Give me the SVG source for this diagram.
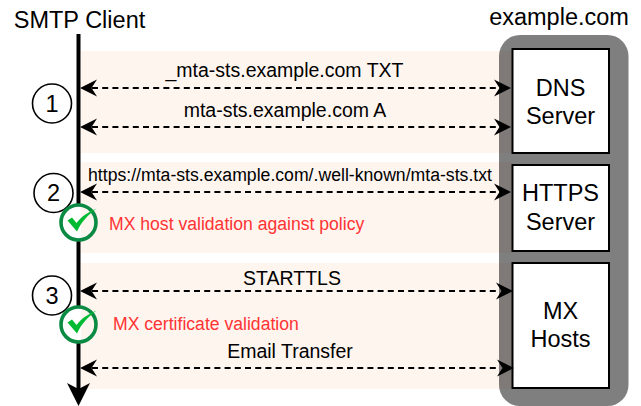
<svg xmlns="http://www.w3.org/2000/svg" width="641" height="406" viewBox="0 0 641 406">
<style>
text{font-family:"Liberation Sans",Arial,sans-serif;fill:#000}
.band{fill:#fff5ef}
.box{fill:#fff;stroke:#000;stroke-width:2}
.big{font-size:23.500px;text-anchor:middle}
.lbl{font-size:19.500px;text-anchor:middle}
.red{font-size:17.600px;fill:#ff3333}
.num{fill:#fff;stroke:#000;stroke-width:1.600}
.dash{fill:none;stroke:#000;stroke-width:2;stroke-dasharray:6 4.200}
</style>
<defs>
<path id="hl" d="M0 0L17-8.500L11.500 0L17 8.500Z" fill="#000"/>
<path id="hr" d="M0 0L-17-8.500L-11.500 0L-17 8.500Z" fill="#000"/>
<g id="check">
<circle r="17.500" fill="#fff"/>
<path class="band" d="M2.500-17.300A17.500 17.500 0 0 1 2.500 17.300Z"/>
<circle r="17.500" fill="none" stroke="#0a8a43" stroke-width="3.600"/>
<path d="M-11-2L-6.500-5L-2 .5C3-6 9-10 18-14C9-7 3-1-1.500 9Z" fill="#00bb33"/>
</g>
</defs>
<g id="bands">
<rect class="band" x="81" y="51" width="431" height="102"/>
<rect class="band" x="81" y="162" width="431" height="91"/>
<rect class="band" x="81" y="263" width="431" height="126"/>
</g>
<g id="example-com">
<rect x="499" y="35" width="129.500" height="371" rx="21" fill="#000" fill-opacity=".5"/>
<text class="big" x="559" y="25">example.com</text>
</g>
<g id="dns-server">
<rect class="box" x="512.500" y="49" width="96.500" height="104"/>
<text class="big" x="560.500" y="96">DNS</text>
<text class="big" x="560.500" y="124">Server</text>
</g>
<g id="https-server">
<rect class="box" x="512.500" y="165" width="96.500" height="86"/>
<text class="big" x="560.500" y="201">HTTPS</text>
<text class="big" x="560.500" y="230">Server</text>
</g>
<g id="mx-hosts">
<rect class="box" x="512.500" y="263" width="96.500" height="125"/>
<text class="big" x="560.500" y="319">MX</text>
<text class="big" x="560.500" y="347">Hosts</text>
</g>
<g id="smtp-client">
<text class="big" x="79.500" y="28">SMTP Client</text>
</g>
<g id="connectors">
<path d="M78.500 34V392" fill="none" stroke="#000" stroke-width="4"/>
<path d="M78.500 406L67 383L78.500 389L90 383Z" fill="#000"/>
<path class="dash" d="M92 88H498M92 127H498M92 192H498M92 291H500M92 368H500"/>
<use href="#hl" x="80" y="88"/><use href="#hr" x="511" y="88"/>
<use href="#hl" x="80" y="127"/><use href="#hr" x="511" y="127"/>
<use href="#hl" x="80" y="192"/><use href="#hr" x="511" y="192"/>
<use href="#hl" x="80" y="291"/><use href="#hr" x="513" y="291"/>
<use href="#hl" x="80" y="368"/><use href="#hr" x="514" y="368"/>
</g>
<g id="labels">
<text class="lbl" x="284.500" y="77">_mta-sts.example.com TXT</text>
<text class="lbl" x="285" y="117">mta-sts.example.com A</text>
<text x="290" y="181" font-size="17.650" text-anchor="middle">https://mta-sts.example.com/.well-known/mta-sts.txt</text>
<text class="lbl" x="292" y="285">STARTTLS</text>
<text class="lbl" x="290" y="358">Email Transfer</text>
<text class="red" x="109" y="230">MX host validation against policy</text>
<text class="red" x="113" y="330">MX certificate validation</text>
</g>
<g id="step-1"><circle class="num" cx="52" cy="103.500" r="19.500"/><text class="big" x="52" y="111.500">1</text></g>
<g id="step-2"><circle class="num" cx="53.500" cy="193" r="19.500"/><text class="big" x="53.500" y="201">2</text></g>
<g id="step-3"><circle class="num" cx="52" cy="295.500" r="19.500"/><text class="big" x="52" y="303.500">3</text></g>
<g id="check-1"><use href="#check" x="78.500" y="222.500"/></g>
<g id="check-2"><use href="#check" x="78.500" y="324.500"/></g>
</svg>
